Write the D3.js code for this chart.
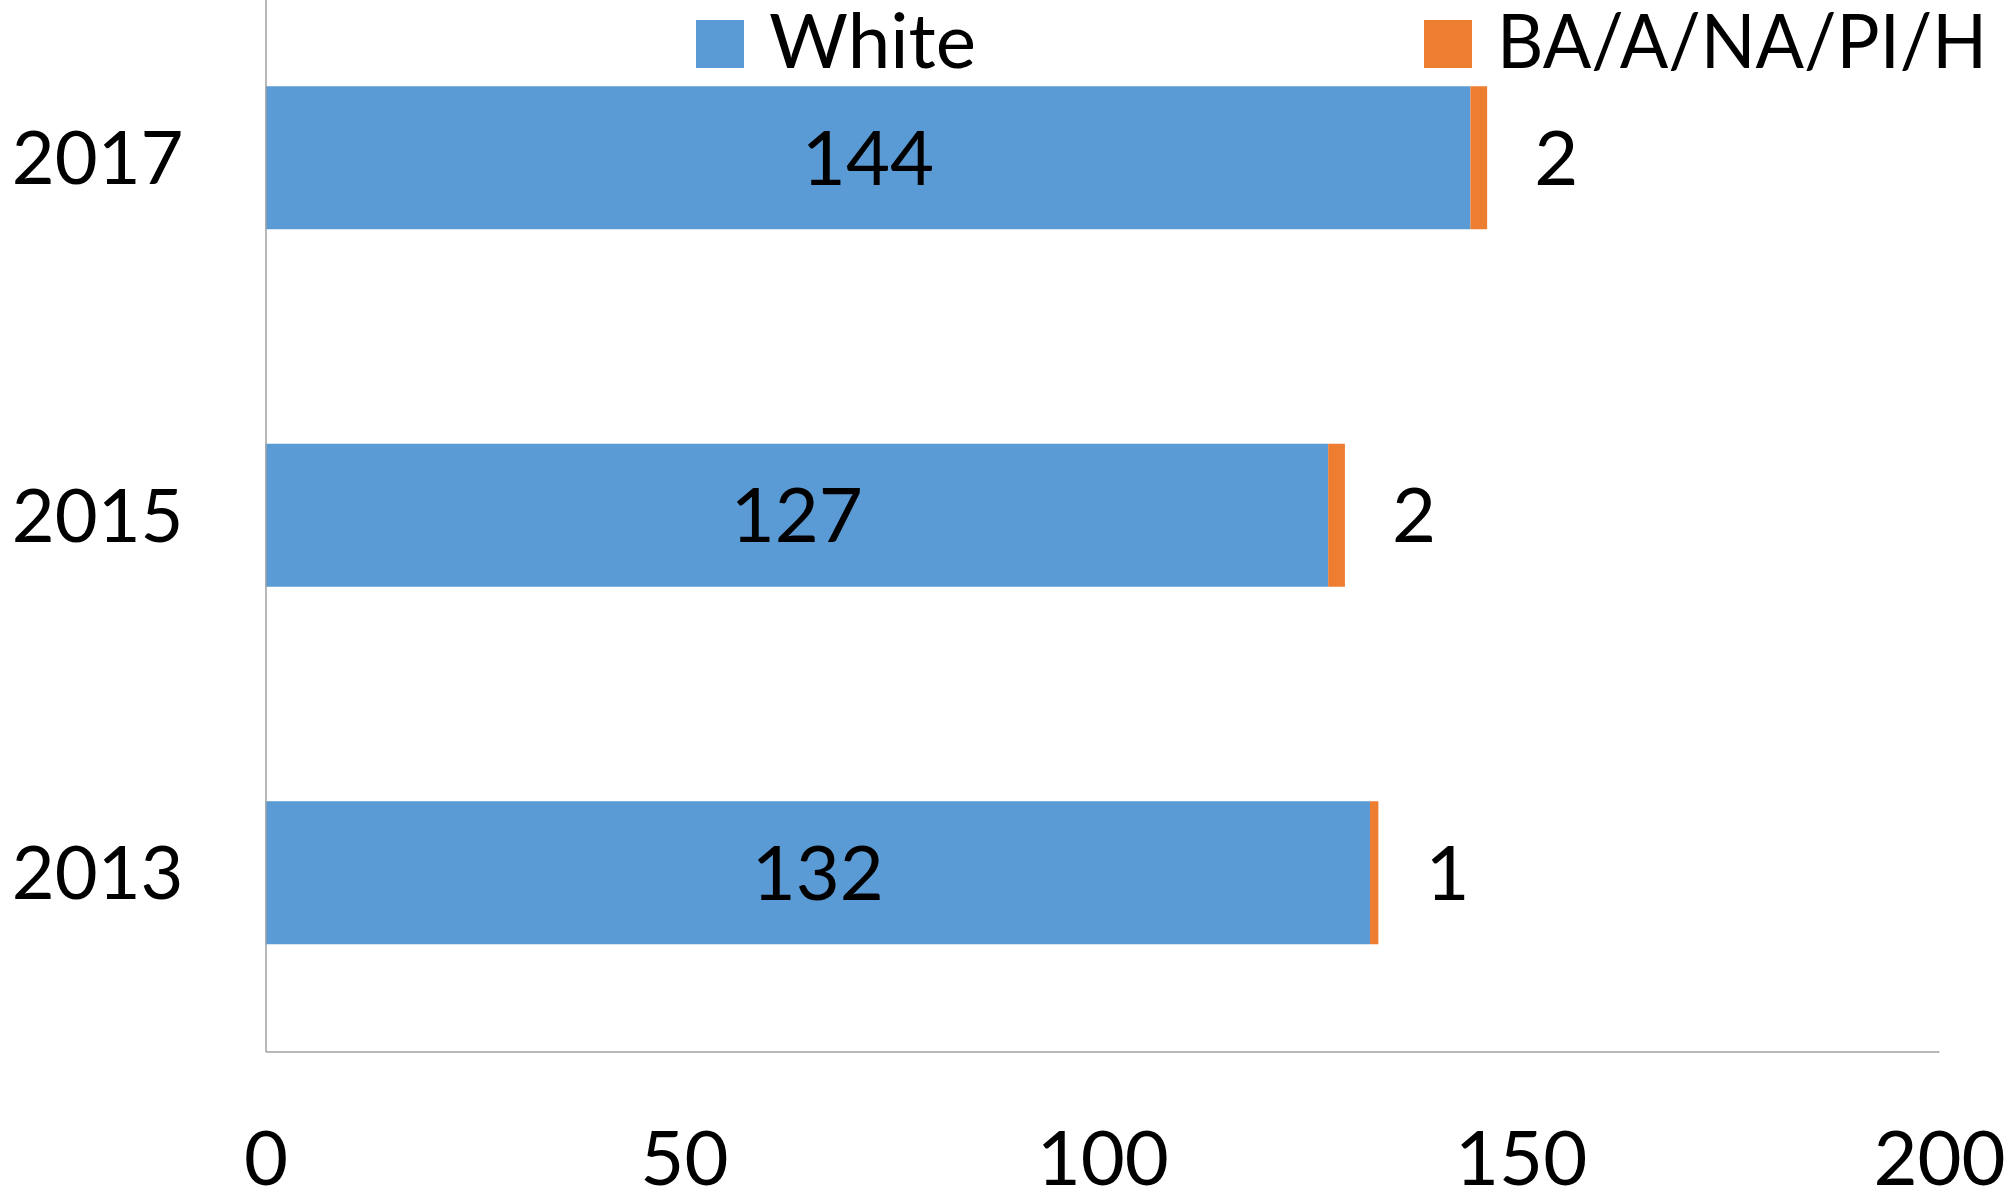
<!DOCTYPE html>
<html>
<head>
<meta charset="utf-8">
<script src="https://cdn.jsdelivr.net/npm/d3@7"></script>
<style>
  html, body { margin: 0; padding: 0; background: #fff; }
  svg text { font-family: Lato, "Open Sans", sans-serif; fill: #000; }
</style>
</head>
<body>
<svg id="chart" width="2011" height="1193"></svg>
<script>
const years = ["2017", "2015", "2013"];
const white = [144, 127, 132];
const other = [2, 2, 1];
const seriesNames = ["White", "BA/A/NA/PI/H"];
const xTicks = [0, 50, 100, 150, 200];

const colors = ["#5B9BD5", "#ED7D31"];
const fontSize = 76;
const legendX = [696, 1424];
const legendTextLen = [207, 490];

const svg = d3.select("#chart");
const x = d3.scaleLinear().domain([0, 200]).range([265.5, 1939]);
const y = d3.scaleBand().domain(years).range([-21, 1051.5]).paddingInner(0.6).paddingOuter(0.3);

const rows = years.map((yr, i) => ({ year: yr, white: white[i], other: other[i] }));
const stack = d3.stack().keys(["white", "other"])(rows);

// bars
svg.append("g").selectAll("g").data(stack).join("g")
  .attr("fill", (d, i) => colors[i])
  .selectAll("rect").data(d => d).join("rect")
  .attr("x", d => x(d[0]))
  .attr("width", d => x(d[1]) - x(d[0]))
  .attr("y", d => y(d.data.year))
  .attr("height", y.bandwidth());

// axes
const xAxis = svg.append("g").attr("transform", "translate(0,1051.5)")
  .call(d3.axisBottom(x).tickValues(xTicks).tickSize(0).tickSizeOuter(0));
xAxis.select(".domain").attr("stroke", "#a0a0a0").attr("stroke-width", 1.5);
xAxis.selectAll("text").attr("y", 133).attr("dy", 0)
  .style("font-size", fontSize + "px").style("font-family", "Lato, sans-serif").attr("fill", "#000");

const yAxis = svg.append("g").attr("transform", "translate(265.5,0)")
  .call(d3.axisLeft(y).tickSize(0).tickSizeOuter(0).tickPadding(82));
yAxis.select(".domain").attr("stroke", "#a0a0a0").attr("stroke-width", 1.5);
yAxis.selectAll("text").attr("dy", "0.36em")
  .style("font-size", "74px").style("font-family", "Lato, sans-serif").attr("fill", "#000");

// data labels
const capHalf = 27;
svg.append("g").selectAll("text").data(rows).join("text")
  .attr("x", d => (x(0) + x(d.white)) / 2)
  .attr("y", d => y(d.year) + y.bandwidth() / 2 + capHalf)
  .attr("text-anchor", "middle")
  .style("font-size", fontSize + "px")
  .text(d => d.white);

svg.append("g").selectAll("text").data(rows).join("text")
  .attr("x", d => x(d.white + d.other) + 47)
  .attr("y", d => y(d.year) + y.bandwidth() / 2 + capHalf)
  .attr("text-anchor", "start")
  .style("font-size", fontSize + "px")
  .text(d => d.other);

// legend
const lg = svg.append("g").selectAll("g").data(seriesNames).join("g")
  .attr("transform", (d, i) => `translate(${legendX[i]},20)`);
lg.append("rect").attr("width", 48).attr("height", 48).attr("fill", (d, i) => colors[i]);
lg.append("text").attr("x", 73).attr("y", 48)
  .attr("textLength", (d, i) => legendTextLen[i])
  .attr("lengthAdjust", "spacingAndGlyphs")
  .style("font-size", fontSize + "px").text(d => d);
</script>
</body>
</html>
